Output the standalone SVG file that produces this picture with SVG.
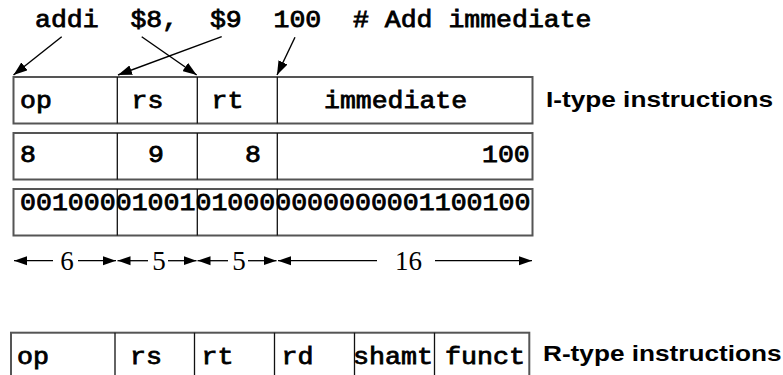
<svg xmlns="http://www.w3.org/2000/svg" width="783" height="375" viewBox="0 0 783 375">
  <style>
    .mono { font-family: "Liberation Mono", "Courier New", monospace; font-weight: normal; font-size: 24px; fill: #000; stroke: #000; stroke-width: 0.8; white-space: pre; }
    .serif { font-family: "Liberation Serif", "Times New Roman", serif; font-size: 27px; fill: #000; }
    .label { font-family: "Liberation Sans", Arial, sans-serif; font-weight: bold; font-size: 22.5px; fill: #000; }
    .frame { fill: #fff; stroke: #555; stroke-width: 2; }
    .div { stroke: #111; stroke-width: 1.3; fill: none; }
    .arrow { stroke: #000; stroke-width: 1.4; fill: none; marker-end: url(#head); }
    .dimline { stroke: #000; stroke-width: 1.3; fill: none; marker-end: url(#dimhead); }
  </style>
  <defs>
    <marker id="head" markerWidth="14" markerHeight="10" refX="14" refY="5" orient="auto" markerUnits="userSpaceOnUse">
      <path d="M0,0 L14,5 L0,10 z" fill="#000"/>
    </marker>
    <marker id="dimhead" markerWidth="13" markerHeight="10" refX="13" refY="5" orient="auto" markerUnits="userSpaceOnUse">
      <path d="M0,0.5 L13,5 L0,9.5 z" fill="#000"/>
    </marker>
  </defs>
  <rect width="783" height="375" fill="#fff"/>

  <!-- assembly source line -->
  <g id="instruction">
    <text class="mono" x="35" y="27" textLength="556.5" lengthAdjust="spacingAndGlyphs">addi  $8,  $9  100  # Add immediate</text>
  </g>

  <!-- I-type field names -->
  <g id="itype-fields">
    <rect class="frame" x="13.5" y="77" width="519" height="46.5"/>
    <path class="div" d="M117.3,77 V123.5 M197.3,77 V123.5 M277.3,77 V123.5"/>
    <text class="mono" x="20" y="108" textLength="31.8" lengthAdjust="spacingAndGlyphs">op</text>
    <text class="mono" x="131.5" y="108" textLength="31.8" lengthAdjust="spacingAndGlyphs">rs</text>
    <text class="mono" x="211.5" y="108" textLength="31.8" lengthAdjust="spacingAndGlyphs">rt</text>
    <text class="mono" x="324" y="108" textLength="143.1" lengthAdjust="spacingAndGlyphs">immediate</text>
  </g>
  <g id="itype-label">
    <text class="label" x="546" y="107" textLength="227" lengthAdjust="spacingAndGlyphs">I-type instructions</text>
  </g>

  <!-- decimal field values -->
  <g id="itype-decimal">
    <rect class="frame" x="13.5" y="133" width="519" height="46.5"/>
    <path class="div" d="M117.3,133 V179.5 M197.3,133 V179.5 M277.3,133 V179.5"/>
    <text class="mono" x="20" y="161.5" textLength="15.9" lengthAdjust="spacingAndGlyphs">8</text>
    <text class="mono" x="148" y="161.5" textLength="15.9" lengthAdjust="spacingAndGlyphs">9</text>
    <text class="mono" x="245" y="161.5" textLength="15.9" lengthAdjust="spacingAndGlyphs">8</text>
    <text class="mono" x="482" y="161.5" textLength="47.7" lengthAdjust="spacingAndGlyphs">100</text>
  </g>

  <!-- binary encoding -->
  <g id="itype-binary">
    <rect class="frame" x="13.5" y="189" width="519" height="46.5"/>
    <path class="div" d="M117.3,189 V235.5 M197.3,189 V235.5 M277.3,189 V235.5"/>
    <text class="mono" x="20" y="210" textLength="95.7" lengthAdjust="spacingAndGlyphs">001000</text>
    <text class="mono" x="115.7" y="210" textLength="79.75" lengthAdjust="spacingAndGlyphs">01001</text>
    <text class="mono" x="195.45" y="210" textLength="79.75" lengthAdjust="spacingAndGlyphs">01000</text>
    <text class="mono" x="275.2" y="210" textLength="255.2" lengthAdjust="spacingAndGlyphs">0000000001100100</text>
  </g>

  <!-- bit widths -->
  <g id="bit-widths">
    <text class="serif" x="67" y="270" text-anchor="middle">6</text>
    <text class="serif" x="159" y="270" text-anchor="middle">5</text>
    <text class="serif" x="239" y="270" text-anchor="middle">5</text>
    <text class="serif" x="408.5" y="270" text-anchor="middle">16</text>
  </g>

  <!-- R-type field names -->
  <g id="rtype-fields">
    <rect class="frame" x="11" y="332.7" width="518.3" height="50"/>
    <path class="div" d="M115,332.7 V383 M194.5,332.7 V383 M274.5,332.7 V383 M354.5,332.7 V383 M434.5,332.7 V383"/>
    <text class="mono" x="17" y="364" textLength="32" lengthAdjust="spacingAndGlyphs">op</text>
    <text class="mono" x="130" y="364" textLength="32" lengthAdjust="spacingAndGlyphs">rs</text>
    <text class="mono" x="201.5" y="364" textLength="32" lengthAdjust="spacingAndGlyphs">rt</text>
    <text class="mono" x="281.5" y="364" textLength="32" lengthAdjust="spacingAndGlyphs">rd</text>
    <text class="mono" x="353" y="364" textLength="80" lengthAdjust="spacingAndGlyphs">shamt</text>
    <text class="mono" x="445" y="364" textLength="80" lengthAdjust="spacingAndGlyphs">funct</text>
  </g>
  <g id="rtype-label">
    <text class="label" x="543" y="361" textLength="238.5" lengthAdjust="spacingAndGlyphs">R-type instructions</text>
  </g>

  <!-- connectors -->
  <g id="connectors">
    <line class="arrow" x1="61.7" y1="36.7" x2="13.5" y2="75"/>
    <line class="arrow" x1="141.7" y1="36.7" x2="196.7" y2="75"/>
    <line class="arrow" x1="221.7" y1="36.7" x2="118" y2="75"/>
    <line class="arrow" x1="295" y1="37.3" x2="277" y2="75"/>

    <line class="dimline" x1="53" y1="260.7" x2="14" y2="260.7"/>
    <line class="dimline" x1="78" y1="260.7" x2="116" y2="260.7"/>
    <line class="dimline" x1="148" y1="260.7" x2="117.5" y2="260.7"/>
    <line class="dimline" x1="168" y1="260.7" x2="196.5" y2="260.7"/>
    <line class="dimline" x1="228" y1="260.7" x2="197.5" y2="260.7"/>
    <line class="dimline" x1="248" y1="260.7" x2="276.5" y2="260.7"/>
    <line class="dimline" x1="377" y1="260.7" x2="278" y2="260.7"/>
    <line class="dimline" x1="435" y1="260.7" x2="532" y2="260.7"/>
  </g>
</svg>
